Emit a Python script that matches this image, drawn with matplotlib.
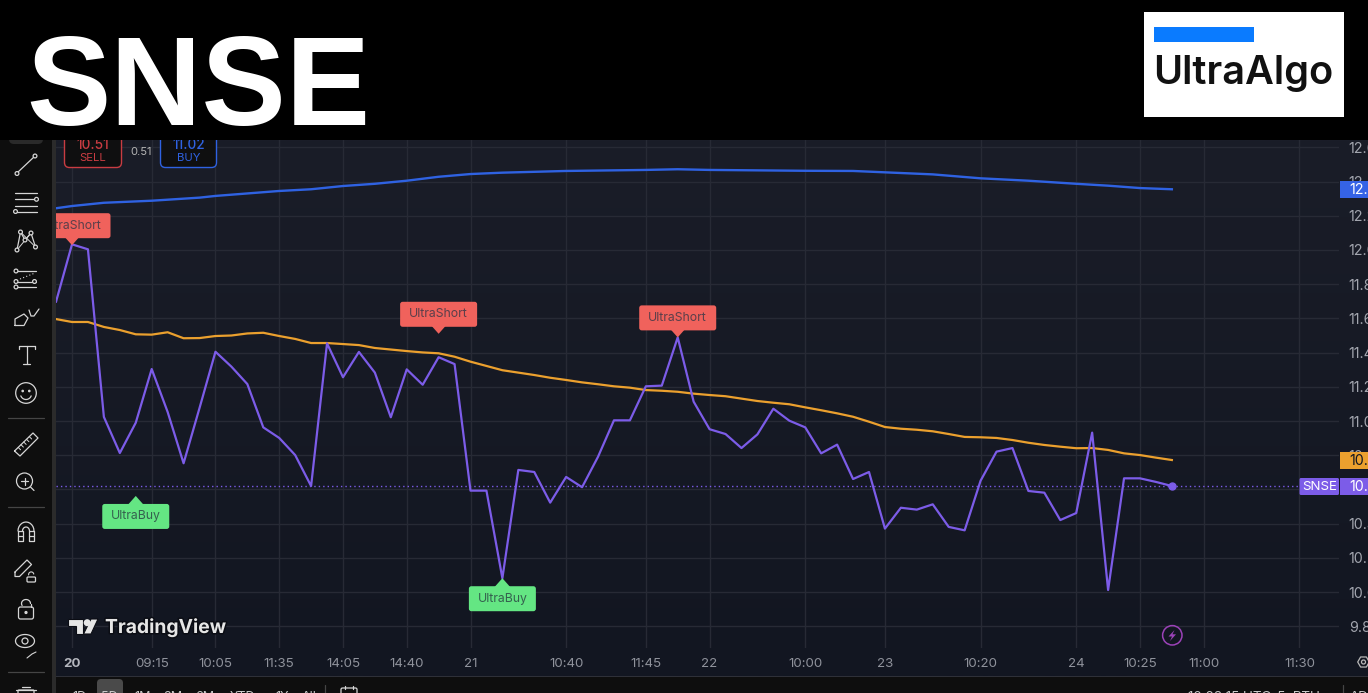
import numpy as np
import matplotlib
matplotlib.use("Agg")
import matplotlib.pyplot as plt
import matplotlib.patheffects as pe
from matplotlib.patches import FancyBboxPatch, Polygon, Circle, Rectangle
from matplotlib.transforms import IdentityTransform

# ---------- data ----------
price_bars = list(range(-1, 70))
price = [11.698, 12.033, 12.004, 11.024, 10.813, 10.990, 11.304, 11.053, 10.753, 11.076,
         11.405, 11.318, 11.216, 10.963, 10.901, 10.801, 10.620, 11.454, 11.256, 11.404,
         11.283, 11.022, 11.302, 11.212, 11.373, 11.333, 10.593, 10.593, 10.081, 10.714,
         10.702, 10.523, 10.673, 10.613, 10.791, 11.004, 11.004, 11.203, 11.207, 11.489,
         11.113, 10.952, 10.924, 10.842, 10.922, 11.072, 11.002, 10.963, 10.811, 10.862,
         10.661, 10.702, 10.371, 10.493, 10.482, 10.513, 10.381, 10.361, 10.651, 10.821,
         10.842, 10.591, 10.581, 10.421, 10.462, 10.932, 10.012, 10.665, 10.665, 10.644,
         10.620]
orange_ma = [11.596, 11.579, 11.579, 11.550, 11.532, 11.507, 11.505, 11.519, 11.484, 11.485,
             11.497, 11.500, 11.512, 11.516, 11.497, 11.480, 11.456, 11.456, 11.450, 11.444,
             11.427, 11.418, 11.409, 11.401, 11.396, 11.376, 11.347, 11.322, 11.297, 11.283,
             11.269, 11.253, 11.240, 11.226, 11.215, 11.203, 11.195, 11.181, 11.177, 11.171,
             11.160, 11.152, 11.145, 11.131, 11.117, 11.107, 11.098, 11.080, 11.063, 11.045,
             11.025, 10.996, 10.965, 10.955, 10.949, 10.940, 10.924, 10.907, 10.905, 10.901,
             10.889, 10.873, 10.860, 10.850, 10.841, 10.842, 10.831, 10.811, 10.801, 10.786,
             10.772]
blue_bars = [-1, 0, 2, 5, 8, 9, 13, 15, 17, 19, 21, 23, 25, 27, 31, 36, 38, 40, 46, 49,
             51, 54, 57, 60, 63, 65, 67, 69]
blue_ma = [12.244, 12.257, 12.276, 12.288, 12.306, 12.316, 12.345, 12.355, 12.374, 12.387,
           12.405, 12.428, 12.444, 12.452, 12.462, 12.468, 12.472, 12.468, 12.463, 12.462,
           12.454, 12.442, 12.419, 12.405, 12.387, 12.376, 12.362, 12.355]
y_ticks = [9.8, 10.0, 10.2, 10.4, 10.6, 10.8, 11.0, 11.2, 11.4, 11.6, 11.8, 12.0, 12.2, 12.4, 12.6]
x_tick_bars = [0, 5, 9, 13, 17, 21, 25, 31, 36, 40, 46, 51, 57, 63, 67, 71, 77]
x_tick_labels = ["20", "09:15", "10:05", "11:35", "14:05", "14:40", "21", "10:40", "11:45",
                 "22", "10:00", "23", "10:20", "24", "10:25", "11:00", "11:30"]
short_bars = [0, 23, 38]
short_tips = [12.028, 11.510, 11.489]
buy_bars = [4, 27]
buy_tips = [10.562, 10.081]
ranges = ["1D", "5D", "1M", "3M", "6M", "YTD", "1Y", "All"]

# ---------- style ----------
W, H = 1368, 693
plt.rcParams['font.family'] = ['Inter', 'DejaVu Sans']
PURPLE, ORANGE, BLUE = '#7c5ce8', '#eba02e', '#2f62e2'
RED, GREEN = '#f0625c', '#64e683'
ICON = '#d6d6d6'
fig = plt.figure(figsize=(W / 100, H / 100), dpi=100, facecolor='#000000')

def pixel_axes(z):
    a = fig.add_axes([0, 0, 1, 1], zorder=z)
    a.set_xlim(0, W); a.set_ylim(H, 0); a.axis('off'); a.patch.set_alpha(0)
    return a

bg = pixel_axes(0)
top_col = np.array([0x1a, 0x1d, 0x28]) / 255
bot_col = np.array([0x12, 0x16, 0x21]) / 255
ramp = np.linspace(0, 1, 256)[:, None, None]
bg.imshow(top_col * (1 - ramp) + bot_col * ramp, extent=[56, W, 676, 140], aspect='auto', zorder=0)
bg.set_xlim(0, W); bg.set_ylim(H, 0)

# ---------- data axes ----------
X_L, X_R, Y_T, Y_B = 56, 1339, 140, 648
ax = fig.add_axes([X_L / W, (H - Y_B) / H, (X_R - X_L) / W, (Y_B - Y_T) / H], zorder=1)
ax.patch.set_alpha(0)
step = 15.94
ax.set_xlim((X_L - 72) / step, (X_R - 72) / step)
ax.set_ylim(9.673, 12.643)
for s in ax.spines.values():
    s.set_visible(False)
ax.set_xticks(x_tick_bars)
ax.set_xticklabels(x_tick_labels)
ax.set_yticks(y_ticks)
ax.set_yticklabels([f"{t:.2f}" for t in y_ticks])
ax.yaxis.tick_right()
ax.tick_params(axis='x', length=0, pad=7, labelsize=9.6, labelcolor='#8f929b')
ax.tick_params(axis='y', length=0, pad=7, labelsize=10.3, labelcolor='#a3a6af')
ax.get_xticklabels()[0].set_fontweight('bold')
ax.get_xticklabels()[0].set_color('#b4b6bd')
ax.grid(True, color='#272a35', lw=1)
ax.set_axisbelow(True)

ax.plot(blue_bars, blue_ma, color=BLUE, lw=1.7, zorder=3)
ax.plot(price_bars, orange_ma, color=ORANGE, lw=1.6, zorder=3)
ax.axhline(price[-1], color=PURPLE, lw=1, ls=(0, (1, 2.2)), zorder=3)
ax.plot(price_bars, price, color=PURPLE, lw=1.6, zorder=4)
ax.plot(price_bars[-1], price[-1], 'o', color=PURPLE, ms=5, zorder=5)

fig.canvas.draw()
def tag(bar, tip, text, color, tcolor, half_w, above):
    """Signal label whose pointer tip sits on (bar, tip) in data space."""
    px, py = ax.transData.transform((bar, tip))
    sgn = 1 if above else -1
    y0 = py + 7 if above else py - 8 - 25
    box = FancyBboxPatch((px - half_w + 1.5, y0 + 1.5), 2 * half_w - 3, 22,
                         boxstyle='round,pad=1.5,rounding_size=2.5', fc=color, ec='none',
                         transform=IdentityTransform(), zorder=6)
    ax.add_patch(box)
    base = py + sgn * 9
    tri = Polygon([(px, py), (px - 8, base), (px + 8, base)], closed=True, fc=color, ec='none',
                  transform=IdentityTransform(), zorder=6)
    ax.add_patch(tri)
    ax.text(px, y0 + 12.5, text, color=tcolor, fontsize=8.8, ha='center', va='center',
            transform=IdentityTransform(), zorder=7)

for b, t in zip(short_bars, short_tips):
    tag(b, t, "UltraShort", RED, '#5a3f4a', 38.5, True)
for b, t in zip(buy_bars, buy_tips):
    tag(b, t, "UltraBuy", GREEN, '#35614f', 33.5, False)

# ---------- chrome ----------
fr = pixel_axes(2)
def rect(x0, y0, x1, y1, c, z=1, **kw):
    fr.add_patch(Rectangle((x0, y0), x1 - x0, y1 - y0, fc=c, ec='none', zorder=z, **kw))
def rrect(x0, y0, x1, y1, fc, ec='none', lw=1, r=4, z=2):
    fr.add_patch(FancyBboxPatch((x0 + r, y0 + r), x1 - x0 - 2 * r, y1 - y0 - 2 * r,
                                boxstyle=f'round,pad={r},rounding_size={r}', fc=fc, ec=ec, lw=lw,
                                zorder=z, mutation_aspect=1))
def ln(xs, ys, c=ICON, lw=0.9, z=3, **kw):
    fr.plot(xs, ys, color=c, lw=lw, zorder=z, solid_capstyle='round', **kw)
def circ(x, y, r, c=ICON, lw=0.9, fc='none', z=3):
    fr.add_patch(Circle((x, y), r, fc=fc, ec=c, lw=lw, zorder=z))

# toolbars and frame
rect(0, 140, 52, H, '#0e0e0e')
rect(52, 140, 56, H, '#2b2b2b')
rect(56, 676, W, H, '#0e0e0e')
rect(56, 675.5, W, 677, '#2e3038')
rrect(9, 120, 43, 144, '#2a2a2a', r=5)

# price tags
rect(1340, 181, W, 198, '#3563e6', z=4)
fr.text(1349, 189.8, "12.36", color='white', fontsize=10.3, va='center', zorder=5)
rect(1340, 452, W, 469, '#eba02e', z=4)
fr.text(1349, 460.8, "10.77", color='#131722', fontsize=10.3, va='center', zorder=5)
rect(1340, 478, W, 495, PURPLE, z=4)
fr.text(1349, 486.8, "10.62", color='white', fontsize=10.3, va='center', zorder=5)
rrect(1299.5, 478, 1339, 495, PURPLE, r=1.5, z=4)
fr.text(1319.3, 486.8, "SNSE", color='white', fontsize=9.6, ha='center', va='center', zorder=5)

# sell / buy boxes
rrect(64.5, 125, 121.5, 167.5, '#0f0f10', ec='#c93c42', lw=1, r=5)
rrect(160.5, 125, 216.5, 167.5, '#0f0f10', ec='#2f62e2', lw=1, r=5)
fr.text(93, 145, "10.51", color='#c93c42', fontsize=9.8, fontweight='medium', ha='center', va='center', zorder=3)
fr.text(93, 158.3, "SELL", color='#c93c42', fontsize=8.2, ha='center', va='center', zorder=3)
fr.text(188.5, 145, "11.02", color='#2f62e2', fontsize=9.8, fontweight='medium', ha='center', va='center', zorder=3)
fr.text(188.5, 158.3, "BUY", color='#2f62e2', fontsize=8.2, ha='center', va='center', zorder=3)
fr.text(141, 152, "0.51", color='#b5b5b5', fontsize=8, ha='center', va='center', zorder=3)

# header
rect(0, 0, W, 140, '#000000', z=8)
fr.text(26, 91.5, "SNSE", color='white', fontsize=91, fontweight='bold', family='Liberation Sans',
        ha='left', va='center', zorder=9)
rect(1144, 12, 1344, 117, '#ffffff', z=9)
rect(1154, 27, 1254, 42, '#0a7bff', z=10)
fr.text(1153, 73, "UltraAlgo", color='#111111', fontsize=28.6, family='Inter', fontweight='semibold',
        ha='left', va='center', zorder=10)

# TradingView logo
logo_stroke = [pe.withStroke(linewidth=2.2, foreground='#0b0d14')]
for pts in ([(68, 619), (83, 619), (83, 634), (76, 634), (76, 626), (68, 626)],
            [(91, 619), (98, 619), (91, 634), (83.5, 634)]):
    fr.add_patch(Polygon(pts, closed=True, fc='#e6e6e6', ec='#0b0d14', lw=0.8, zorder=3))
circ(87.2, 622.7, 3.5, c='#e6e6e6', lw=0, fc='#e6e6e6')
fr.text(105, 627.5, "TradingView", color='#e6e6e6', fontsize=13.9, fontweight='bold',
        ha='left', va='center', zorder=3, path_effects=logo_stroke)

# lightning
circ(1172.3, 635.3, 9.7, c='#9b42b8', lw=1.1)
fr.add_patch(Polygon([(1174.5, 630), (1168.5, 636.5), (1172, 636.5), (1170, 641), (1176, 634.3), (1172.5, 634.3)],
                     closed=True, fc='#9b42b8', ec='none', zorder=3))

# left toolbar icons
ln([17, 35], [173, 156]); circ(17, 173.5, 1.9, fc='#0e0e0e'); circ(35, 156, 1.9, fc='#0e0e0e')
for y in (192.7, 199.3, 205.7, 211.5):
    ln([15, 37], [y, y])
circ(36.5, 199.3, 1.9, fc='#0e0e0e'); circ(15.5, 211.5, 1.9, fc='#0e0e0e')
pat_x = [17, 20.5, 25, 31, 35.5]; pat_y = [250, 232, 240, 233, 247]
ln(pat_x, pat_y); ln([20.5, 35.5], [232, 247], lw=0.7)
ln([17, 31], [250, 233], lw=0.7)
for a, b in zip(pat_x, pat_y):
    circ(a, b, 1.9, fc='#0e0e0e')
ln([16, 36], [271, 271]); ln([16, 36], [281.5, 281.5]); ln([16, 36], [286.5, 286.5])
ln([20, 35], [279, 273], lw=0.8, ls=(0, (1, 2)))
for a, b in ((16, 271), (16, 281.5), (16, 287), (34.5, 281.5)):
    circ(a, b, 1.9, fc='#0e0e0e')
ln([15, 24, 28, 24, 15, 15], [325.5, 325.5, 318, 314, 319, 325.5])
ln([29, 31, 34, 39], [310, 316, 316, 309])
ln([19, 35], [346, 346]); ln([26.5, 26.5], [346, 364]); ln([23, 30], [364, 364])
ln([19, 19], [346, 349]); ln([35, 35], [346, 349])
circ(26, 393, 10.3); circ(22.7, 391, 0.7, fc=ICON); circ(29.3, 391, 0.7, fc=ICON)
ang = np.radians(np.arange(20, 161, 10))
ln(26 + 5.5 * np.cos(ang), 394 + 5.5 * np.sin(ang))
for y in (418.3, 507.3, 672.3):
    ln([8, 44], [y, y], c='#454545', lw=0.9)
ln([14.5, 33, 38, 20, 14.5], [451, 433, 438, 456, 451])
for t in (0.2, 0.35, 0.5, 0.65, 0.8):
    ln([14.5 + 18.5 * t, 14.5 + 18.5 * t + 2.4], [451 - 18 * t, 451 - 18 * t + 2.4], lw=0.7)
circ(24.5, 481, 8); ln([30.5, 34], [487, 490.5]); ln([21, 28], [481, 481]); ln([24.5, 24.5], [477.5, 484.5])
ang = np.radians(np.arange(180, 361, 15))
ln(26 + 8 * np.cos(ang), 531 + 9 * np.sin(ang)); ln(26 + 3.5 * np.cos(ang), 531 + 4 * np.sin(ang))
ln([18, 18, 23, 23, 18], [531, 541, 541, 531, 531]); ln([29, 29, 34, 34, 29], [531, 541, 541, 531, 531])
ln([18, 23], [536, 536]); ln([29, 34], [536, 536])
ln([15, 27, 31.5, 19.5, 15, 15], [572, 560, 564.5, 576.5, 576.5, 572])
rrect(27, 577, 35.5, 582, 'none', ec=ICON, lw=0.9, r=1, z=3)
ang = np.radians(np.arange(170, 361, 15))
ln(31.2 + 2.6 * np.cos(ang), 574.5 + 2.6 * np.sin(ang), lw=0.8)
rrect(18.5, 607, 33.5, 619, 'none', ec=ICON, lw=0.9, r=2, z=3); circ(26, 612.5, 1, fc=ICON)
ang = np.radians(np.arange(150, 361, 15))
ln(26 + 4.5 * np.cos(ang), 603.5 + 4 * np.sin(ang) * 1); ln([30.5, 30.5], [603.5, 607])
th = np.linspace(0, 2 * np.pi, 40)
ln(25 + 9.5 * np.cos(th), 641 + 6.5 * np.sin(th)); circ(25, 641, 3)
ln([27, 32, 36], [658, 654, 652], lw=0.8)
rrect(18, 690, 34, 700, 'none', ec=ICON, lw=0.9, r=1, z=3); ln([16, 36], [689.5, 689.5]); ln([22, 30], [686.5, 686.5])

# bottom bar
rrect(97, 679, 123, 700, '#4a4a4a', r=4, z=2)
for xt, lab in zip([79, 109, 143, 173, 205, 242, 282, 309], ranges):
    fr.text(xt, 696.5, lab, color='#c8c8c8', fontsize=9, ha='center', va='center', zorder=3)
ln([325, 325], [685, 693], c='#454545')
rrect(341, 688, 357, 700, 'none', ec=ICON, lw=0.9, r=1.5, z=3)
ln([345, 345], [686, 689]); ln([353, 353], [686, 689])
fr.text(1188, 696.5, "10:08:15 UTC-5  RTH", color='#c8c8c8', fontsize=9.6, ha='left', va='center', zorder=3)
ln([1343, 1343], [685, 693], c='#454545')
fr.text(1350, 696.5, "ADJ", color='#c8c8c8', fontsize=9.6, ha='left', va='center', zorder=3)

# settings hexagon
hx = 1363.5 + 5.8 * np.cos(np.radians(np.arange(0, 361, 60)))
hy = 662 + 5.8 * np.sin(np.radians(np.arange(0, 361, 60)))
ln(hx, hy, c='#b8b8b8'); circ(1363.5, 662, 2, c='#b8b8b8')

fr.set_xlim(0, W); fr.set_ylim(H, 0)
fig.savefig("out.png", dpi=100, facecolor=fig.get_facecolor())
